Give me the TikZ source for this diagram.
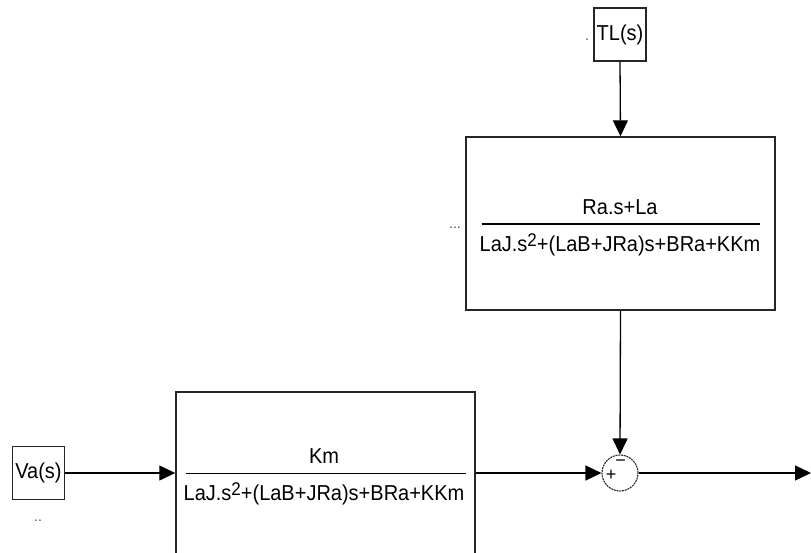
\documentclass[tikz,border=0pt]{standalone}
\usepackage{fontspec}
\setmainfont{Liberation Sans}
\usetikzlibrary{arrows.meta,calc}
\begin{document}
\begin{tikzpicture}[x=1pt,y=-1pt,
  blockbox/.style={draw=black!85, line width=1.4pt, inner sep=0pt},
  srcbox/.style={draw=black!85, line width=1.4pt, inner sep=0pt,
    minimum width=52pt, minimum height=53pt, font=\fontsize{20}{24}\selectfont},
  sig/.style={line width=1.3pt, -{Triangle[length=16pt,width=15pt]}},
  txt/.style={font=\fontsize{20}{24}\selectfont, inner sep=0pt},
  tiny/.style={font=\fontsize{14}{14}\selectfont, inner sep=0pt, text=black!70},
  sign/.style={font=\fontsize{18}{18}\selectfont, inner sep=0pt},
  sumnode/.style={circle, draw=black!85, dash pattern=on 2pt off 0.8pt,
    line width=1.1pt, minimum size=36pt, inner sep=0pt}
]
\useasboundingbox (0,0) rectangle (811,552);
\newcommand{\sqr}{\raisebox{5pt}{\fontsize{17}{17}\selectfont 2}}
\newcommand{\tall}[1]{\scalebox{1}[1.08]{#1}}

% sources
\node[srcbox] (tl) at (620,34.5) {\tall{TL(s)}};
\node[tiny] (tldot) at (587,40) {.};
\node[srcbox] (va) at (38.5,473) {\tall{Va(s)}};
\node[tiny] (vadots) at (38,521) {..};

% disturbance transfer block
\node[blockbox, minimum width=309pt, minimum height=173pt] (gd) at (620.5,223.5) {};
\node[txt] (gdnum) at (620,207) {\tall{Ra.s+La}};
\node[txt] (gdden) at (620,245) {\tall{LaJ.s\sqr+(LaB+JRa)s+BRa+KKm}};
\draw[line width=1.2pt] ($(gd.center)+(-139,0.5)$) -- ($(gd.center)+(139,0.5)$);
\node[tiny] (gddots) at (455,228) {...};

% plant transfer block
\node[blockbox, minimum width=299pt, minimum height=163pt] (gp) at (325.5,473.5) {};
\node[txt] (gpnum) at (324,456) {\tall{Km}};
\node[txt] (gpden) at (324,494) {\tall{LaJ.s\sqr+(LaB+JRa)s+BRa+KKm}};
\draw[line width=1.2pt] ($(gp.center)+(-140,0)$) -- ($(gp.center)+(140,0)$);

% summing junction
\node[sumnode] (sum) at (620,473) {};
\node[sign] (plus) at (611,475) {+};
\node[sign] (minus) at (620.5,463) {−};
\coordinate (out) at (811,473);

% signal connections
\draw[sig] (tl.south) -- (gd.north);
\draw[sig] (gd.south) -- (sum.north);
\draw[sig] (va.east) -- (gp.west |- va.east);
\draw[sig] (gp.east |- sum.west) -- (sum.west);
\draw[sig] (sum.east) -- (out);
\end{tikzpicture}
\end{document}
